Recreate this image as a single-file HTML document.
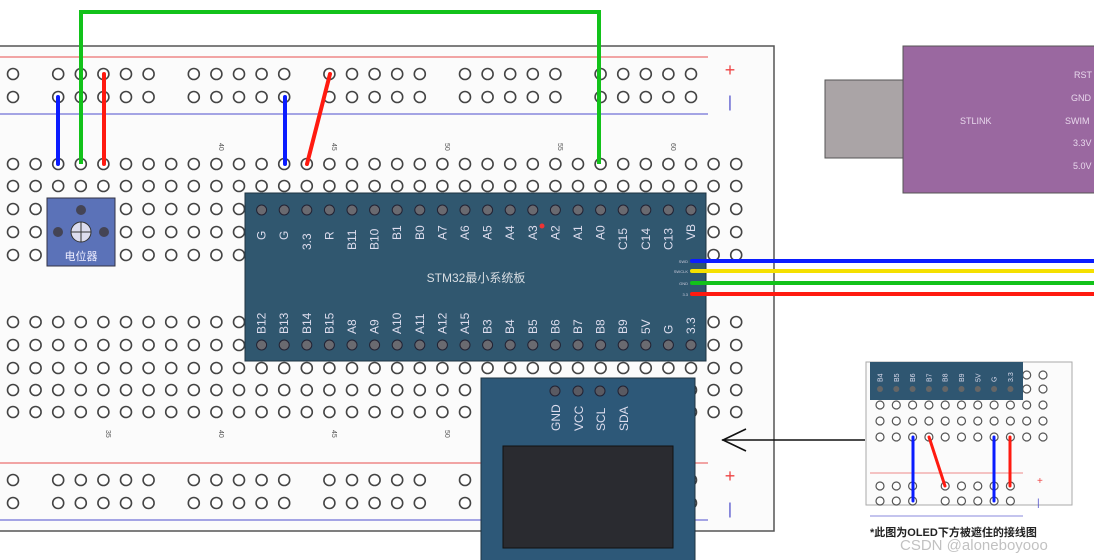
<!DOCTYPE html>
<html><head><meta charset="utf-8"><style>
html,body{margin:0;padding:0;background:#fff;width:1094px;height:560px;overflow:hidden}
svg{display:block}
text{font-family:"Liberation Sans","Noto Sans CJK SC",sans-serif}
</style></head><body>
<svg id="s" width="1094" height="560" viewBox="0 0 1094 560" xmlns="http://www.w3.org/2000/svg">
<rect x="-2" y="46" width="776" height="485" fill="#fbfbfb" stroke="#555" stroke-width="1.5"/>
<line x1="0" y1="57" x2="708" y2="57" stroke="#e88" stroke-width="1.5"/>
<line x1="0" y1="114" x2="708" y2="114" stroke="#88d" stroke-width="1.5"/>
<line x1="0" y1="463" x2="708" y2="463" stroke="#e88" stroke-width="1.5"/>
<line x1="0" y1="520" x2="708" y2="520" stroke="#88d" stroke-width="1.5"/>
<text x="730" y="76" fill="#e44" font-size="18" text-anchor="middle">+</text>
<text x="730" y="107" fill="#55c" font-size="16" text-anchor="middle">|</text>
<text x="730" y="482" fill="#e44" font-size="18" text-anchor="middle">+</text>
<text x="730" y="514" fill="#55c" font-size="16" text-anchor="middle">|</text>
<g id="holes" fill="#fff" stroke="#444" stroke-width="1.6"></g>
<g font-size="7" fill="#555">
<text transform="translate(219,143) rotate(90)">40</text>
<text transform="translate(332,143) rotate(90)">45</text>
<text transform="translate(445,143) rotate(90)">50</text>
<text transform="translate(558,143) rotate(90)">55</text>
<text transform="translate(671,143) rotate(90)">60</text>
<text transform="translate(106,430) rotate(90)">35</text>
<text transform="translate(219,430) rotate(90)">40</text>
<text transform="translate(332,430) rotate(90)">45</text>
<text transform="translate(445,430) rotate(90)">50</text>
</g>
<rect x="47" y="198" width="68" height="68" fill="#5b72b8" stroke="#334" stroke-width="1"/>
<circle cx="81" cy="210" r="5" fill="#445"/><circle cx="58" cy="232" r="5" fill="#445"/><circle cx="104" cy="232" r="5" fill="#445"/>
<circle cx="81" cy="232" r="10" fill="#dde" stroke="#333"/>
<line x1="71" y1="232" x2="91" y2="232" stroke="#333"/><line x1="81" y1="222" x2="81" y2="242" stroke="#333"/>
<text x="81" y="260" fill="#eef" font-size="11" text-anchor="middle">电位器</text>
<rect x="245" y="193" width="461" height="168" fill="#30576f" stroke="#1e3342"/>
<g id="pins" fill="#6a6a70" stroke="#223" stroke-width="1"></g>
<g fill="#dde" font-size="12" id="plabels"></g>
<text x="476" y="282" fill="#d8dde2" font-size="12" text-anchor="middle">STM32最小系统板</text>
<circle cx="542" cy="226" r="2.5" fill="#e33"/>
<g font-size="4" fill="#ccd" text-anchor="end"><text x="688" y="263">SWD</text><text x="688" y="273">SWCLK</text><text x="688" y="285">GND</text><text x="688" y="296">3.3</text></g>
<g stroke-width="4" stroke-linecap="round" fill="none">
<line x1="692" y1="261" x2="1094" y2="261" stroke="#0a1cff"/>
<line x1="692" y1="271" x2="1094" y2="271" stroke="#f5e000"/>
<line x1="692" y1="283" x2="1094" y2="283" stroke="#12c21a"/>
<line x1="692" y1="294" x2="1094" y2="294" stroke="#ff1a10"/>
<line x1="58" y1="97" x2="58" y2="164" stroke="#0a1cff"/>
<line x1="104" y1="74" x2="104" y2="164" stroke="#ff1a10"/>
<polyline points="81,164 81,12 599,12 599,164" stroke="#12c21a" stroke-linecap="butt"/>
<line x1="285" y1="97" x2="285" y2="164" stroke="#0a1cff"/>
<line x1="330" y1="74" x2="307" y2="164" stroke="#ff1a10"/>
</g>
<rect x="481" y="378" width="214" height="190" fill="#2d5878" stroke="#1e3342"/>
<g fill="#5a5a62" stroke="#223"><circle cx="555" cy="391" r="5"/><circle cx="578" cy="391" r="5"/><circle cx="600" cy="391" r="5"/><circle cx="623" cy="391" r="5"/></g>
<g fill="#dde" font-size="12"><text transform="translate(560,431) rotate(-90)">GND</text><text transform="translate(583,431) rotate(-90)">VCC</text><text transform="translate(605,431) rotate(-90)">SCL</text><text transform="translate(628,431) rotate(-90)">SDA</text></g>
<rect x="503" y="446" width="170" height="102" fill="#2a2b30" stroke="#111"/>
<rect x="825" y="80" width="80" height="78" fill="#aaa4a6" stroke="#555"/>
<rect x="903" y="46" width="195" height="147" fill="#9a68a0" stroke="#555"/>
<g fill="#e8d8ec" font-size="9"><text x="960" y="124">STLINK</text>
<text x="1074" y="78">RST</text><text x="1071" y="101">GND</text><text x="1065" y="124">SWIM</text><text x="1073" y="146">3.3V</text><text x="1073" y="169">5.0V</text></g>
<g stroke="#111" stroke-width="1.6" fill="none"><line x1="865" y1="440" x2="722" y2="440"/><polyline points="746,429 723,440 746,451"/></g>
<rect x="866" y="362" width="206" height="143" fill="#fbfbfb" stroke="#aaa"/>
<line x1="870" y1="473" x2="1023" y2="473" stroke="#e88"/>
<line x1="870" y1="516" x2="1023" y2="516" stroke="#88d"/>
<text x="1037" y="484" fill="#e44" font-size="10">+</text>
<text x="1037" y="506" fill="#55c" font-size="10">|</text>
<g id="iholes" fill="#fff" stroke="#555" stroke-width="1.2"></g>
<rect x="870" y="362" width="153" height="38" fill="#2f5671"/>
<g id="ipins" fill="#666"></g>
<g fill="#dde" font-size="7" id="ilabels"></g>
<g stroke-width="3" stroke-linecap="round">
<line x1="913" y1="437" x2="913" y2="501" stroke="#0a1cff"/>
<line x1="929" y1="437" x2="945" y2="486" stroke="#ff1a10"/>
<line x1="994" y1="437" x2="994" y2="501" stroke="#0a1cff"/>
<line x1="1010" y1="437" x2="1010" y2="486" stroke="#ff1a10"/>
</g>
<text x="870" y="536" font-size="11" font-weight="bold" fill="#222">*此图为OLED下方被遮住的接线图</text>
<text x="900" y="550" font-size="15" fill="#bbb" opacity="0.9">CSDN @aloneboyooo</text>
</svg>
<script>
(function(){
var NS="http://www.w3.org/2000/svg";
function c(g,x,y,r){var e=document.createElementNS(NS,"circle");e.setAttribute("cx",x);e.setAttribute("cy",y);e.setAttribute("r",r);g.appendChild(e);}
function t(g,x,y,s,rot){var e=document.createElementNS(NS,"text");e.setAttribute("transform","translate("+x+","+y+") rotate("+rot+")");e.textContent=s;g.appendChild(e);}
var H=document.getElementById("holes");
var cx=function(i){return 13+22.6*i;};
var rows=[164,186,209,232,255,322,345,368,390,412];
for(var i=0;i<33;i++)rows.forEach(function(y){c(H,cx(i),y,5.5);});
var rail=[0,2,3,4,5,6,8,9,10,11,12,14,15,16,17,18,20,21,22,23,24,26,27,28,29,30];
rail.forEach(function(i){[74,97,480,503].forEach(function(y){c(H,cx(i),y,5.5);});});
var P=document.getElementById("pins"),L=document.getElementById("plabels");
var topL=["G","G","3.3","R","B11","B10","B1","B0","A7","A6","A5","A4","A3","A2","A1","A0","C15","C14","C13","VB"];
var botL=["B12","B13","B14","B15","A8","A9","A10","A11","A12","A15","B3","B4","B5","B6","B7","B8","B9","5V","G","3.3"];
for(var i=0;i<20;i++){var x=cx(11+i);c(P,x,210,5);c(P,x,345,5);t(L,x+4,topL[i].length>2?250:240,topL[i],-90);t(L,x+4,334,botL[i],-90);}
var IH=document.getElementById("iholes"),IP=document.getElementById("ipins"),IL=document.getElementById("ilabels");
var ix=function(i){return 880+16.3*i;};
for(var i=0;i<11;i++){[375,389,405,421,437].forEach(function(y){c(IH,ix(i),y,4);});}
[0,1,2,4,5,6,7,8].forEach(function(i){[486,501].forEach(function(y){c(IH,ix(i),y,4);});});
var il=["B4","B5","B6","B7","B8","B9","5V","G","3.3"];
for(var i=0;i<9;i++){c(IP,ix(i),389,3);t(IL,ix(i)+2.5,382,il[i],-90);}
})();
</script>
</body></html>
